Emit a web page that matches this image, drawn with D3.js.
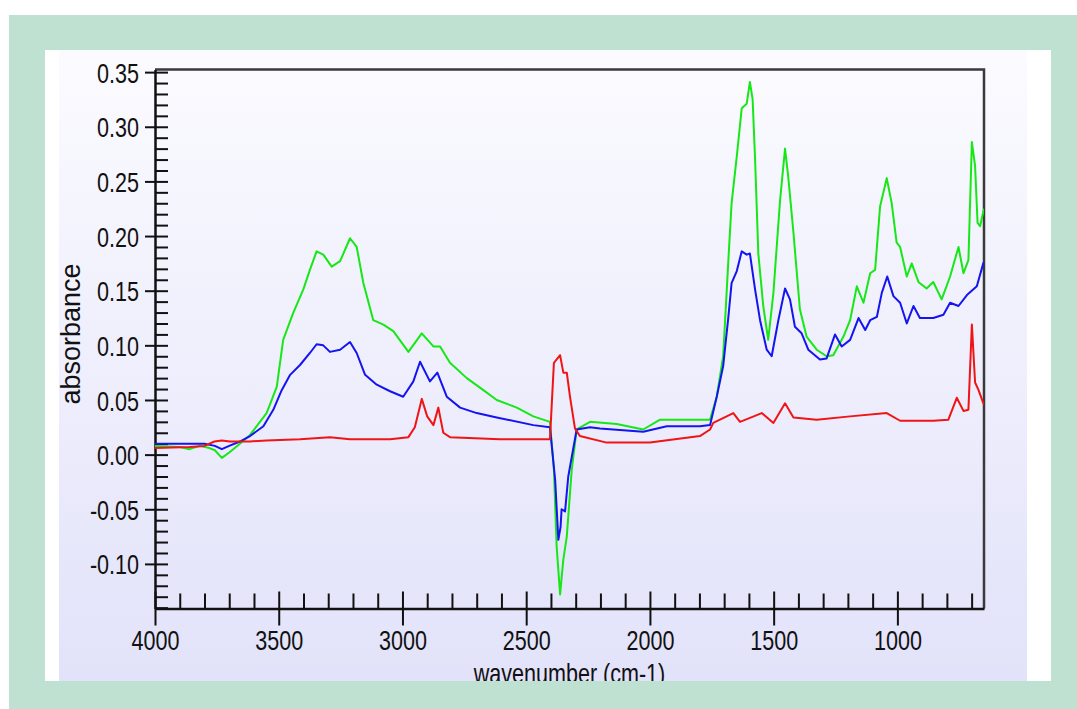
<!DOCTYPE html>
<html>
<head>
<meta charset="utf-8">
<script src="https://cdn.jsdelivr.net/npm/d3@7"></script>
<style>
    html, body { margin: 0; padding: 0; background: #ffffff; }
    #chart { width: 1077px; height: 709px; }
    text { font-family: "Liberation Sans", Arial, sans-serif; fill: #111; }
</style>
</head>
<body>
<div id="chart"></div>
<script>
// wavenumber (cm-1) / absorbance pairs
const greenWn = [4000, 3900, 3860, 3820, 3780, 3758, 3730, 3700, 3657, 3616, 3549, 3508, 3482, 3441, 3401, 3374,
    3347, 3320, 3286, 3252, 3212, 3185, 3158, 3118, 3077, 3037, 2976, 2922, 2875, 2848, 2808, 2740, 2673, 2619,
    2538, 2471, 2404, 2388, 2377, 2363, 2350, 2336, 2316, 2296, 2242, 2134, 2027, 1959, 1798, 1757, 1730, 1704,
    1683, 1670, 1649, 1629, 1609, 1596, 1585, 1575, 1562, 1542, 1522, 1501, 1474, 1454, 1441, 1420, 1394, 1367,
    1326, 1286, 1259, 1218, 1191, 1164, 1137, 1110, 1090, 1070, 1043, 1023, 1003, 989, 962, 942, 915, 882, 855,
    821, 787, 753, 733, 713, 699, 686, 676, 666, 653, 650];
const greenAbs = [0.008, 0.007, 0.005, 0.008, 0.006, 0.004, -0.003, 0.002, 0.010, 0.018, 0.038, 0.062, 0.105, 0.130, 0.151, 0.169,
    0.186, 0.183, 0.172, 0.177, 0.198, 0.190, 0.157, 0.123, 0.119, 0.113, 0.094, 0.111, 0.099, 0.099, 0.084, 0.070, 0.059, 0.050,
    0.043, 0.035, 0.030, -0.014, -0.084, -0.128, -0.096, -0.075, -0.014, 0.023, 0.030, 0.028, 0.023, 0.032, 0.032, 0.032, 0.053, 0.090,
    0.178, 0.230, 0.273, 0.317, 0.321, 0.341, 0.325, 0.270, 0.184, 0.136, 0.105, 0.148, 0.233, 0.280, 0.254, 0.203, 0.133, 0.108,
    0.096, 0.090, 0.091, 0.108, 0.123, 0.154, 0.139, 0.166, 0.169, 0.227, 0.253, 0.230, 0.194, 0.190, 0.163, 0.175, 0.158, 0.152, 0.158,
    0.142, 0.163, 0.190, 0.166, 0.178, 0.286, 0.264, 0.212, 0.209, 0.222, 0.225];

const blueWn = [4000, 3900, 3800, 3758, 3730, 3700, 3657, 3616, 3562, 3522, 3488, 3454, 3414, 3374, 3347, 3320,
    3293, 3252, 3212, 3185, 3151, 3104, 3050, 2997, 2956, 2929, 2889, 2859, 2821, 2767, 2700, 2619, 2471, 2404,
    2383, 2370, 2361, 2357, 2343, 2330, 2296, 2242, 2202, 2027, 1932, 1798, 1757, 1730, 1704, 1683, 1670, 1649,
    1629, 1609, 1596, 1575, 1555, 1528, 1508, 1481, 1454, 1434, 1414, 1387, 1360, 1313, 1286, 1252, 1225, 1191,
    1157, 1130, 1110, 1083, 1063, 1041, 1016, 989, 962, 935, 909, 855, 814, 787, 753, 719, 679, 653, 650];
const blueAbs = [0.010, 0.010, 0.010, 0.008, 0.005, 0.008, 0.012, 0.017, 0.026, 0.041, 0.059, 0.073, 0.082, 0.093, 0.101, 0.100,
    0.094, 0.096, 0.103, 0.093, 0.073, 0.064, 0.058, 0.053, 0.067, 0.085, 0.067, 0.075, 0.053, 0.043, 0.038, 0.034, 0.027, 0.025,
    -0.023, -0.078, -0.066, -0.050, -0.052, -0.020, 0.023, 0.025, 0.024, 0.021, 0.026, 0.026, 0.027, 0.053, 0.081, 0.126, 0.157, 0.168,
    0.186, 0.183, 0.184, 0.151, 0.123, 0.096, 0.090, 0.123, 0.152, 0.142, 0.117, 0.111, 0.096, 0.087, 0.088, 0.110, 0.099, 0.105,
    0.125, 0.114, 0.123, 0.126, 0.148, 0.163, 0.145, 0.139, 0.120, 0.136, 0.125, 0.125, 0.128, 0.139, 0.136, 0.146, 0.154, 0.175, 0.176];

const redWn = [4000, 3860, 3800, 3760, 3730, 3697, 3616, 3549, 3414, 3293, 3212, 3050, 2976, 2950, 2922, 2900,
    2875, 2855, 2835, 2808, 2606, 2404, 2388, 2363, 2350, 2336, 2323, 2303, 2283, 2175, 2000, 1798, 1757, 1744,
    1663, 1636, 1548, 1501, 1454, 1420, 1326, 1191, 1043, 989, 855, 794, 760, 733, 713, 699, 686, 672, 653, 650];
const redAbs = [0.006, 0.007, 0.008, 0.012, 0.013, 0.012, 0.012, 0.013, 0.014, 0.016, 0.014, 0.014, 0.016, 0.025, 0.051, 0.035,
    0.027, 0.043, 0.020, 0.016, 0.014, 0.014, 0.084, 0.091, 0.075, 0.075, 0.053, 0.024, 0.017, 0.011, 0.011, 0.017, 0.023, 0.029,
    0.038, 0.030, 0.038, 0.029, 0.047, 0.034, 0.032, 0.035, 0.038, 0.031, 0.031, 0.032, 0.052, 0.040, 0.041, 0.119, 0.066, 0.059, 0.047, 0.046];

const xTickLabels = [4000, 3500, 3000, 2500, 2000, 1500, 1000];
const yTickLabels = [-0.10, -0.05, 0.00, 0.05, 0.10, 0.15, 0.20, 0.25, 0.30, 0.35];

class SpectrumVis {
    constructor(el) {
        this.el = el;
        this.series = [
            { wn: greenWn, abs: greenAbs, color: "#16e816" },
            { wn: blueWn, abs: blueAbs, color: "#1414f0" },
            { wn: redWn, abs: redAbs, color: "#f01414" },
        ];
        this.initVis();
    }

    initVis() {
        const vis = this;
        const sx = 0.77; // tick font is narrow

        vis.margin = { top: 69.5, left: 155, right: 93, bottom: 100 };
        vis.width = 1077 - vis.margin.left - vis.margin.right;
        vis.height = 709 - vis.margin.top - vis.margin.bottom - 0.5;

        vis.svg = d3.select("#" + vis.el)
            .append("svg")
            .attr("width", 1077)
            .attr("height", 709);

        const defs = vis.svg.append("defs");
        const grad = defs.append("linearGradient")
            .attr("id", "bg").attr("x1", 0).attr("y1", 0).attr("x2", 0).attr("y2", 1);
        grad.append("stop").attr("offset", "0%").attr("stop-color", "#fbfbff");
        grad.append("stop").attr("offset", "100%").attr("stop-color", "#e2e2fa");

        defs.append("clipPath").attr("id", "panelClip")
            .append("rect").attr("x", 45).attr("y", 50).attr("width", 1006).attr("height", 631);
        defs.append("clipPath").attr("id", "plotClip")
            .append("rect").attr("x", 0).attr("y", -2).attr("width", vis.width).attr("height", vis.height + 4);

        // page frame
        vis.svg.append("rect").attr("x", 9).attr("y", 15).attr("width", 1068).attr("height", 694).attr("fill", "#bfe1d2");
        vis.svg.append("rect").attr("x", 45).attr("y", 50).attr("width", 1006).attr("height", 631).attr("fill", "#ffffff");
        vis.svg.append("rect").attr("x", 59).attr("y", 50).attr("width", 968).attr("height", 631).attr("fill", "url(#bg)");

        const panel = vis.svg.append("g").attr("clip-path", "url(#panelClip)");
        vis.group = panel.append("g")
            .attr("transform", `translate(${vis.margin.left},${vis.margin.top})`);

        vis.xScale = d3.scaleLinear().domain([4000, 650]).range([0, vis.width]);
        vis.yScale = d3.scaleLinear().domain([-0.1408, 0.3524]).range([vis.height, 0]);

        // top and right frame
        vis.group.append("path")
            .attr("d", `M0,0H${vis.width}V${vis.height}`)
            .attr("fill", "none").attr("stroke", "#3a3a3a").attr("stroke-width", 2.5);

        // x axis: minor ticks inside, major ticks crossing
        const minorX = d3.range(700, 4001, 100);
        const xIn = vis.group.append("g")
            .attr("transform", `translate(0,${vis.height})`)
            .call(d3.axisTop(vis.xScale).tickValues(minorX).tickSize(15).tickSizeOuter(0).tickFormat(""));
        xIn.selectAll(".tick line")
            .filter((d) => xTickLabels.includes(d))
            .attr("y2", -17);
        const xOut = vis.group.append("g")
            .attr("transform", `translate(0,${vis.height})`)
            .call(d3.axisBottom(vis.xScale).tickValues(xTickLabels).tickSize(17).tickSizeOuter(0).tickFormat(d3.format("d")));
        xOut.select(".domain").remove();
        xOut.selectAll("text")
            .attr("y", 0).attr("dy", 0)
            .attr("transform", `translate(0,41) scale(${sx},1)`)
            .style("font-size", "28px");

        // y axis
        const minorY = d3.range(-14, 36).map((d) => d / 100);
        const yIn = vis.group.append("g")
            .call(d3.axisRight(vis.yScale).tickValues(minorY).tickSize(13).tickSizeOuter(0).tickFormat(""));
        const yOut = vis.group.append("g")
            .call(d3.axisLeft(vis.yScale).tickValues(yTickLabels).tickSize(10).tickSizeOuter(0)
                .tickFormat((d) => d.toFixed(2)));
        yOut.select(".domain").remove();
        yOut.selectAll("text")
            .attr("x", 0).attr("dy", "0.36em")
            .attr("text-anchor", "end")
            .attr("transform", `translate(-16,0) scale(${sx},1)`)
            .style("font-size", "28px");

        [xIn, xOut, yIn, yOut].forEach((g) => {
            g.selectAll("line").attr("stroke", "#111").attr("stroke-width", 2);
            g.selectAll(".domain").attr("stroke", "#111").attr("stroke-width", 2.5);
        });

        // axis titles
        vis.group.append("text")
            .attr("text-anchor", "middle")
            .attr("transform", `translate(${vis.width / 2},${vis.height + 74}) scale(${sx},1)`)
            .style("font-size", "28px")
            .text("wavenumber (cm-1)");

        vis.group.append("text")
            .attr("text-anchor", "middle")
            .attr("transform", `translate(-75,${334 - vis.margin.top}) rotate(-90)`)
            .style("font-size", "27px")
            .text("absorbance");

        vis.lines = vis.group.append("g").attr("clip-path", "url(#plotClip)");

        this.wrangleData();
    }

    wrangleData() {
        this.series.forEach((s) => {
            s.points = s.wn.map((w, i) => [w, s.abs[i]]);
        });
        this.updateVis();
    }

    updateVis() {
        const line = d3.line()
            .x((d) => this.xScale(d[0]))
            .y((d) => this.yScale(d[1]));

        this.lines.selectAll("path")
            .data(this.series)
            .join("path")
            .attr("d", (d) => line(d.points))
            .attr("fill", "none")
            .attr("stroke", (d) => d.color)
            .attr("stroke-width", 2)
            .attr("stroke-linejoin", "round");
    }
}

new SpectrumVis("chart");
</script>
</body>
</html>
